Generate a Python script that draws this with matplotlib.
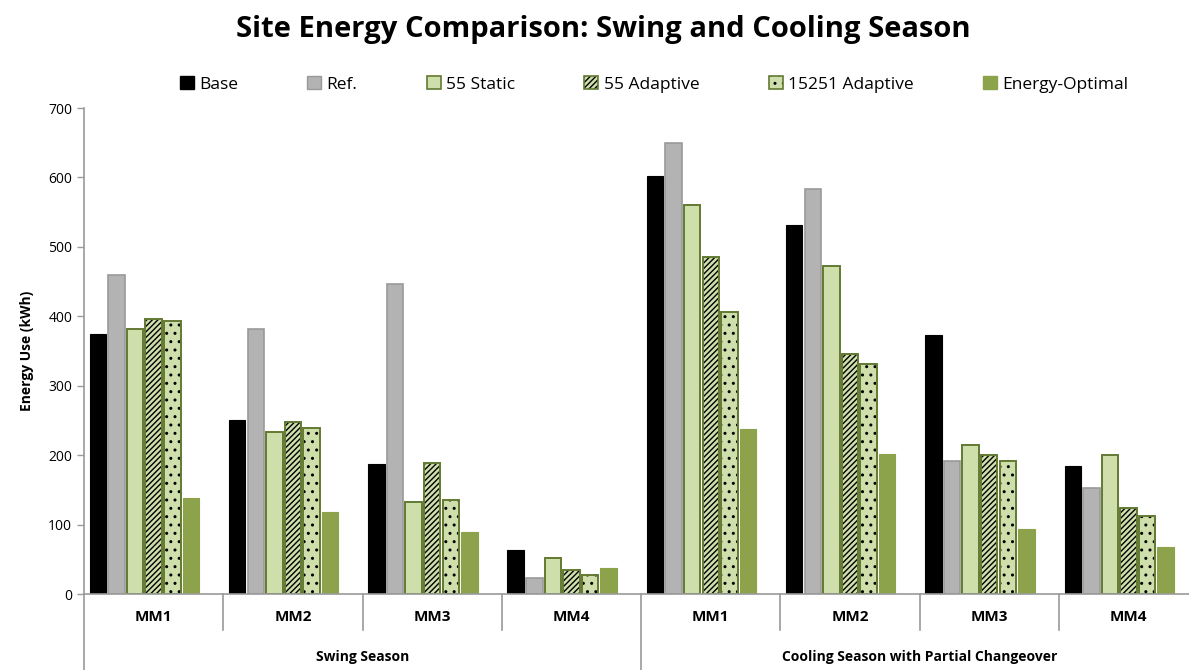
import matplotlib
matplotlib.use("Agg")
import matplotlib.pyplot as plt
from matplotlib.patches import Patch
from matplotlib.legend_handler import HandlerTuple
import numpy as np

plt.rcParams['font.family'] = ['Open Sans', 'DejaVu Sans']

# ===== DATA =====
seasons = ["Swing Season", "Cooling Season with Partial Changeover"]
units = ["MM1", "MM2", "MM3", "MM4"]
series = ["Base", "Ref.", "55 Static", "55 Adaptive", "15251 Adaptive", "Energy-Optimal"]

base = [375, 251, 187, 63, 602, 532, 373, 184]
ref = [459, 382, 446, 23, 650, 583, 192, 153]
static55 = [382, 233, 133, 52, 560, 473, 214, 200]
adaptive55 = [396, 248, 189, 35, 485, 345, 200, 124]
adaptive15251 = [393, 239, 136, 27, 406, 331, 192, 113]
energy_opt = [138, 118, 90, 37, 238, 202, 93, 68]

# colors
LIGHT = '#cfdfac'
OLIVE = '#637a32'
EO = '#8ca24b'
GRAY = '#b3b3b3'
AXC = '#9a9a9a'

plt.rcParams['hatch.linewidth'] = 1.0

fig = plt.figure(figsize=(11.89, 6.70), dpi=100)
# plot area runs a bit past the right edge of the picture, like the original
ax = fig.add_axes([0.0707, 0.1134, 0.937, 0.7254])

x = np.arange(len(base))
step = 0.1335
w = 0.118

def pos(i):
    return x + (i - 3) * step

ax.bar(pos(0), base, w, color='black', edgecolor='black', linewidth=0.8)
ax.bar(pos(1), ref, w, color=GRAY, edgecolor='#999999', linewidth=1.2)
ax.bar(pos(2), static55, w, color=LIGHT, edgecolor=OLIVE, linewidth=1.4)
# hatched bars: black hatch on light green, olive outline drawn on top
ax.bar(pos(3), adaptive55, w, color=LIGHT, edgecolor='black', hatch='//////', linewidth=0)
ax.bar(pos(3), adaptive55, w, fill=False, edgecolor=OLIVE, linewidth=1.4)
ax.bar(pos(4), adaptive15251, w, color=LIGHT, edgecolor='black', hatch='..', linewidth=0)
ax.bar(pos(4), adaptive15251, w, fill=False, edgecolor=OLIVE, linewidth=1.4)
ax.bar(pos(5), energy_opt, w, color=EO, edgecolor=EO, linewidth=0.8)

ax.set_xlim(-0.5, len(base) - 0.5)
ax.set_ylim(0, 700)
ax.set_yticks(range(0, 701, 100))
ax.tick_params(axis='y', labelsize=10, color=AXC, length=5, width=1)
ax.set_xticks([])
for s in ['top', 'right']:
    ax.spines[s].set_visible(False)
for s in ['left', 'bottom']:
    ax.spines[s].set_color(AXC)
    ax.spines[s].set_linewidth(1.2)
ax.set_ylabel("Energy Use (kWh)", fontsize=10, fontweight='bold', labelpad=10)

# category axis labels and separators
tr = ax.get_xaxis_transform()
labels = units * len(seasons)
for i, lab in enumerate(labels):
    ax.text(x[i], -0.047, lab, transform=tr, ha='center', va='center',
            fontsize=11, fontweight='bold')
for b in np.arange(len(base) + 1) - 0.5:
    if b in (-0.5, 3.5, 7.5):
        ax.plot([b, b], [0, -0.16], transform=tr, color=AXC, lw=1.2, clip_on=False)
    else:
        ax.plot([b, b], [0, -0.075], transform=tr, color=AXC, lw=1.2, clip_on=False)
for j, s in enumerate(seasons):
    ax.text(1.5 + 4 * j, -0.13, s, transform=tr, ha='center', va='center',
            fontsize=10, fontweight='bold')

handles = [
    Patch(facecolor='black', edgecolor='black'),
    Patch(facecolor=GRAY, edgecolor='#999999'),
    Patch(facecolor=LIGHT, edgecolor=OLIVE, linewidth=1.2),
    (Patch(facecolor=LIGHT, edgecolor='black', hatch='//////', linewidth=0),
     Patch(fill=False, edgecolor=OLIVE, linewidth=1.2)),
    (Patch(facecolor=LIGHT, edgecolor='black', hatch='..', linewidth=0),
     Patch(fill=False, edgecolor=OLIVE, linewidth=1.2)),
    Patch(facecolor=EO, edgecolor=EO),
]
fig.legend(handles, series, loc='center', bbox_to_anchor=(0.55, 0.874), ncol=6,
           frameon=False, fontsize=12.5, handlelength=0.8, handleheight=0.8,
           handletextpad=0.3, columnspacing=4.0,
           handler_map={tuple: HandlerTuple(ndivide=1, pad=0)})

fig.suptitle("Site Energy Comparison: Swing and Cooling Season", x=0.507, y=0.978,
             fontsize=21, fontweight='bold')

fig.savefig("out.png", dpi=100)
